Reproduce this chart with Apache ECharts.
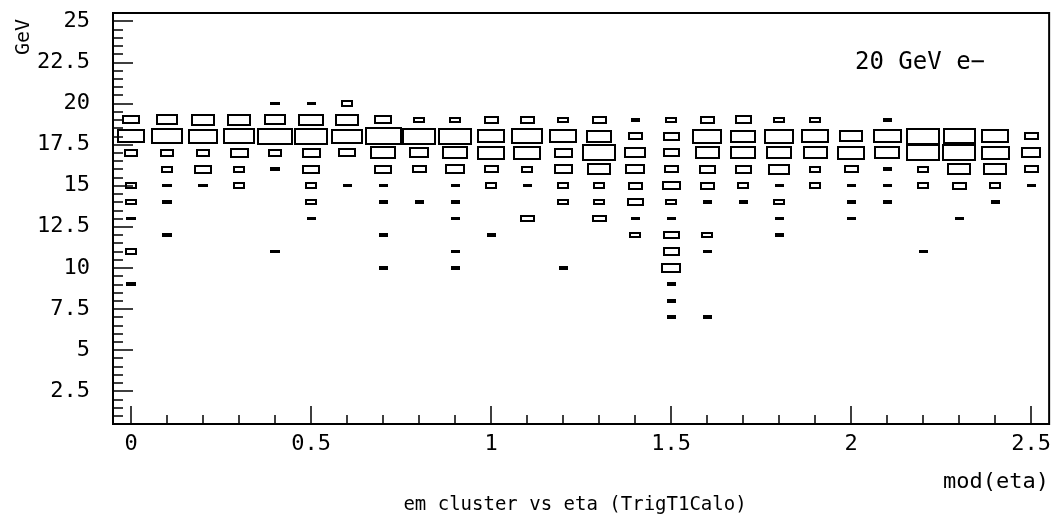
<!DOCTYPE html>
<html>
<head>
<meta charset="UTF-8">
<title>em cluster vs eta</title>
<script src="https://cdn.jsdelivr.net/npm/echarts@6/dist/echarts.min.js"></script>
<style>
body{margin:0;background:#fff;}
#chart{width:1054px;height:517px;}
</style>
</head>
<body>
<div id="chart"></div>
<script type="text/javascript">
// eta bin centres (0.1 wide) and energy rows (1 GeV wide)
var etaBins = [0,0.1,0.2,0.3,0.4,0.5,0.6,0.7,0.8,0.9,1.0,1.1,1.2,1.3,1.4,1.5,1.6,1.7,1.8,1.9,2.0,2.1,2.2,2.3,2.4,2.5];
var energyRows = [20,19,18,17,16,15,14,13,12,11,10,9,8,7];
// entries per cell, one array per energy row
var e20 = [0,0,0,0,1,1,2,0,0,0,0,0,0,0,0,0,0,0,0,0,0,0,0,0,0,0];
var e19 = [4,7,8,8,7,9,8,4,2,2,3,3,2,3,1,2,3,4,2,2,0,1,0,0,0,0];
var e18 = [11,15,13,15,19,17,14,20,17,17,11,15,11,9,3,4,13,10,13,11,8,12,17,16,11,3];
var e17 = [3,3,3,5,3,5,4,10,6,9,11,11,5,17,7,4,9,10,10,9,11,10,17,17,12,6];
var e16 = [0,2,4,2,1,4,0,4,3,6,3,2,5,8,6,3,4,4,7,2,3,1,2,8,8,3];
var e15 = [2,1,1,2,0,2,1,1,0,1,2,1,2,2,3,5,3,2,1,2,1,1,2,3,2,1];
var e14 = [2,1,0,0,0,2,0,1,1,1,0,0,2,2,4,2,1,1,2,0,1,1,0,0,1,0];
var e13 = [1,0,0,0,0,1,0,0,0,1,0,3,0,3,1,1,0,0,1,0,1,0,0,1,0,0];
var e12 = [0,1,0,0,0,0,0,1,0,0,1,0,0,0,2,4,2,0,1,0,0,0,0,0,0,0];
var e11 = [2,0,0,0,1,0,0,0,0,1,0,0,0,0,0,4,1,0,0,0,0,0,1,0,0,0];
var e10 = [0,0,0,0,0,0,0,1,0,1,0,0,1,0,0,6,0,0,0,0,0,0,0,0,0,0];
var e9  = [1,0,0,0,0,0,0,0,0,0,0,0,0,0,0,1,0,0,0,0,0,0,0,0,0,0];
var e8  = [0,0,0,0,0,0,0,0,0,0,0,0,0,0,0,1,0,0,0,0,0,0,0,0,0,0];
var e7  = [0,0,0,0,0,0,0,0,0,0,0,0,0,0,0,1,1,0,0,0,0,0,0,0,0,0];
var xMajor = [0,0.5,1,1.5,2,2.5];
var yMajor = [2.5,5,7.5,10,12.5,15,17.5,20,22.5,25];

var rows = [e20,e19,e18,e17,e16,e15,e14,e13,e12,e11,e10,e9,e8,e7];
var cells = [];
var cmax = 0;
for (var r = 0; r < rows.length; r++) {
	for (var i = 0; i < etaBins.length; i++) {
		if (rows[r][i] > 0) {
			cells.push([etaBins[i], energyRows[r], rows[r][i]]);
			if (rows[r][i] > cmax) cmax = rows[r][i];
		}
	}
}

var xMinor = [];
for (var k = 0; k <= 25; k++) xMinor.push(k / 10);
var yMinor = [];
for (var k = 2; k <= 50; k++) yMinor.push(k / 2);

var font = '"DejaVu Sans Mono", "Liberation Mono", monospace';
var tickStyle = {color:'#000', width:1.5};

// box side grows with sqrt of the cell content
function renderBox(params, api) {
	var c = api.coord([api.value(0), api.value(1)]);
	var sz = api.size([0.1, 1]);
	var n = api.value(2);
	var s = Math.sqrt(n / cmax);
	var w = sz[0] * s + 1, h = sz[1] * s + (n > 1 ? 1.5 : 0);
	var x0 = Math.round(c[0] - w / 2), x1 = Math.round(c[0] + w / 2);
	var y0 = Math.round(c[1] - h / 2), y1 = Math.round(c[1] + h / 2);
	return {
		type:'rect',
		shape:{x:x0 + 1, y:y0 + 1, width:Math.max(x1 - x0 - 2, 0), height:Math.max(y1 - y0 - 2, 0)},
		style:{fill:'none', stroke:'#000', lineWidth:2}
	};
}

var chart = echarts.init(document.getElementById('chart'));
var option = {
	backgroundColor:'#fff',
	animation:false,
	grid:{left:113, right:2, top:13, bottom:93, show:true, borderColor:'#000', borderWidth:2, backgroundColor:'transparent'},
	xAxis:[{
		type:'value', min:-0.05, max:2.55, position:'bottom',
		axisLine:{show:true, onZero:false, lineStyle:{color:'#000', width:2}},
		axisTick:{show:true, inside:true, length:18, customValues:xMajor, lineStyle:tickStyle},
		axisLabel:{customValues:xMajor, color:'#000', fontFamily:font, fontSize:22, margin:9},
		splitLine:{show:false}
	},{
		type:'value', min:-0.05, max:2.55, position:'bottom', offset:0,
		axisLine:{show:false, onZero:false},
		axisTick:{show:true, inside:true, length:9, customValues:xMinor, lineStyle:tickStyle},
		axisLabel:{show:false},
		splitLine:{show:false}
	}],
	yAxis:[{
		type:'value', min:0.5, max:25.5, position:'left',
		axisLine:{show:true, onZero:false, lineStyle:{color:'#000', width:2}},
		axisTick:{show:true, inside:true, length:20, customValues:yMajor, lineStyle:tickStyle},
		axisLabel:{customValues:yMajor, color:'#000', fontFamily:font, fontSize:22, margin:23},
		splitLine:{show:false}
	},{
		type:'value', min:0.5, max:25.5, position:'left', offset:0,
		axisLine:{show:false, onZero:false},
		axisTick:{show:true, inside:true, length:10, customValues:yMinor, lineStyle:tickStyle},
		axisLabel:{show:false},
		splitLine:{show:false}
	}],
	graphic:[
		{type:'text', x:24, y:37, rotation:Math.PI / 2,
			style:{text:'GeV', font:'20px ' + font, fill:'#000', textAlign:'center', textVerticalAlign:'middle'}},
		{type:'text', x:855, y:63,
			style:{text:'20 GeV e\u2212', font:'24px ' + font, fill:'#000', textAlign:'left', textVerticalAlign:'middle'}},
		{type:'text', x:1049, y:482,
			style:{text:'mod(eta)', font:'22px ' + font, fill:'#000', textAlign:'right', textVerticalAlign:'middle'}},
		{type:'text', x:575, y:505,
			style:{text:'em cluster vs eta (TrigT1Calo)', font:'19px ' + font, fill:'#000', textAlign:'center', textVerticalAlign:'middle'}}
	],
	series:[{
		type:'custom',
		xAxisIndex:0,
		yAxisIndex:0,
		renderItem:renderBox,
		encode:{x:0, y:1},
		data:cells
	}]
};
chart.setOption(option);
</script>
</body>
</html>
